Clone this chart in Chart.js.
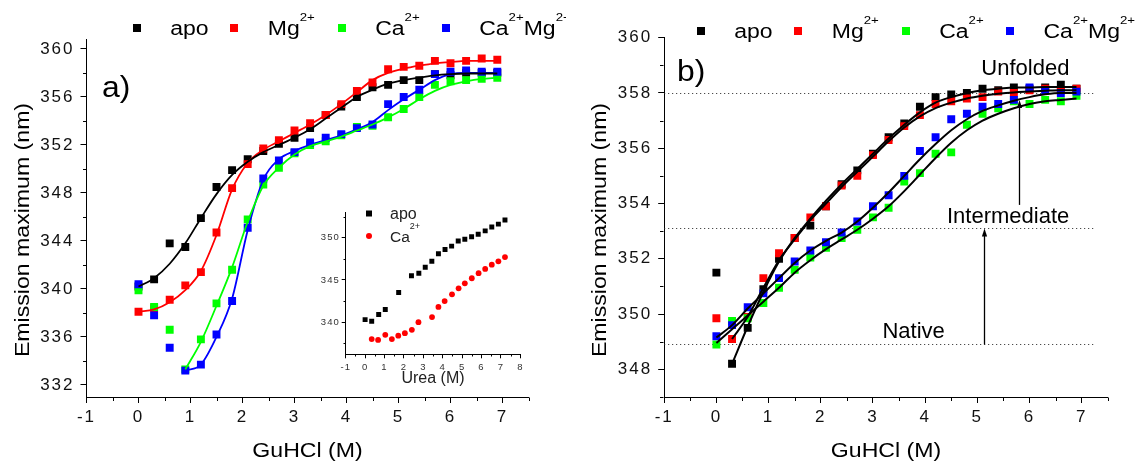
<!DOCTYPE html>
<html>
<head>
<meta charset="utf-8">
<script src="https://cdn.jsdelivr.net/npm/chart.js@4.4.1/dist/chart.umd.min.js"></script>
<style>
  html, body { margin:0; padding:0; background:#fff; }
  #wrap { position:relative; width:1136px; height:462px; overflow:hidden; background:#fff; }
  #wrap canvas { position:absolute; }
</style>
</head>
<body>
<div id="wrap">
  <canvas id="ca" width="566" height="462" style="left:0;top:0"></canvas>
  <canvas id="cb" width="570" height="462" style="left:566px;top:0"></canvas>
  <canvas id="ci" width="240" height="200" style="left:290px;top:195px"></canvas>
</div>
<script>
// ---------------- DATA ----------------
const guhcl = [0,0.3,0.6,0.9,1.2,1.5,1.8,2.1,2.4,2.7,3.0,3.3,3.6,3.9,4.2,4.5,4.8,5.1,5.4,5.7,6.0,6.3,6.6,6.9];
const guhclFrom03 = guhcl.slice(1);
const guhclFrom09 = guhcl.slice(3);

// panel a) measured points
const aApo  = [340.2,340.8,343.8,343.5,345.9,348.5,349.9,350.8,351.5,352.1,352.6,353.4,354.5,355.2,356.0,356.8,357.0,357.4,357.4,357.9,357.8,358.0,358.0,358.0];
const aMg   = [338.1,338.4,339.1,340.3,341.4,344.7,348.4,350.4,351.7,352.4,353.2,353.8,354.5,355.4,356.5,357.2,358.3,358.5,358.6,359.0,358.8,359.0,359.2,359.1];
const aCa   = [339.9,338.5,336.6,333.3,335.8,338.8,341.6,345.8,348.7,350.1,351.3,352.0,352.3,352.8,353.5,353.6,354.3,355.0,356.0,357.0,357.3,357.4,357.5,357.6];
const aCaMg = [340.4,337.8,335.1,333.2,333.7,336.2,339.0,345.1,349.2,350.7,351.4,352.2,352.6,352.9,353.4,353.7,355.4,356.0,356.6,357.9,358.1,358.2,358.1,358.1];
// panel a) fitted curves
const aFitApo  = [340.2,340.9,342.1,343.8,345.9,347.9,349.5,350.6,351.4,352.0,352.6,353.3,354.2,355.1,356.0,356.6,357.1,357.4,357.6,357.8,357.9,357.95,357.95,357.95];
const aFitMg   = [338.1,338.3,338.9,339.9,341.5,344.5,348.3,350.5,351.6,352.3,353.0,353.7,354.5,355.4,356.4,357.4,358.0,358.35,358.6,358.8,358.9,359.0,359.0,359.0];
const aFitCa   = [333.3,335.6,338.6,341.8,345.6,348.6,350.1,351.2,351.9,352.3,352.7,353.2,353.7,354.3,355.0,355.8,356.5,357.0,357.3,357.5,357.6];
const aFitCaMg = [333.2,333.7,336.0,339.2,344.9,349.1,350.8,351.5,352.0,352.4,352.8,353.3,353.9,354.9,355.8,356.6,357.4,357.9,358.0,358.0,358.0];

// panel b) measured points
const bApo  = [351.5,348.2,349.5,350.9,352.0,352.75,353.2,353.9,354.7,355.2,355.8,356.4,356.9,357.5,357.85,357.95,358.0,358.15,358.1,358.2,358.15,358.2,358.3,358.15];
const bMg   = [349.85,349.1,349.9,351.3,352.2,352.75,353.5,353.9,354.65,355.0,355.75,356.3,356.8,357.2,357.6,357.7,357.8,357.85,358.05,358.0,358.1,358.15,358.1,358.15];
const bCa   = [348.9,349.75,349.85,350.4,350.95,351.6,352.05,352.4,352.75,353.05,353.5,353.85,354.8,355.1,355.8,355.85,356.85,357.25,357.45,357.7,357.6,357.75,357.7,357.9];
const bCaMg = [349.2,349.6,350.25,350.75,351.3,351.9,352.3,352.6,352.95,353.35,353.9,354.3,355.0,355.9,356.4,357.05,357.25,357.5,357.6,357.75,358.2,358.1,358.0,358.05];
// panel b) fitted curves
const bFitApo  = [348.2,349.55,350.8,351.9,352.75,353.45,354.1,354.7,355.25,355.8,356.35,356.85,357.3,357.65,357.85,358.0,358.1,358.15,358.2,358.2,358.22,358.22,358.22];
const bFitMg   = [349.1,349.9,350.95,351.95,352.7,353.4,354.0,354.6,355.15,355.7,356.25,356.75,357.15,357.45,357.65,357.8,357.9,357.97,358.02,358.05,358.08,358.1,358.1];
const bFitCa   = [348.95,349.45,349.95,350.45,350.95,351.5,351.95,352.35,352.7,353.05,353.45,353.9,354.45,355.05,355.65,356.2,356.65,357.0,357.25,357.45,357.6,357.7,357.75,357.8];
const bFitCaMg = [349.15,349.6,350.2,350.75,351.3,351.85,352.3,352.65,352.95,353.35,353.85,354.4,355.0,355.6,356.15,356.65,357.05,357.35,357.55,357.72,357.85,357.95,358.0,358.0];

// inset (urea)
const ureaApo = [0,0.34,0.7,1.04,1.73,2.39,2.77,3.1,3.44,3.78,4.12,4.46,4.8,5.14,5.49,5.83,6.19,6.53,6.87,7.21];
const insetApo = [340.3,340.1,340.9,341.5,343.5,345.5,345.8,346.5,347.2,348.1,348.6,349.0,349.6,349.8,350.1,350.4,350.8,351.25,351.6,352.1];
const ureaCa = [0.34,0.67,1.04,1.38,1.71,2.05,2.41,2.75,3.45,3.78,4.1,4.48,4.82,5.14,5.5,5.85,6.19,6.53,6.87,7.21];
const insetCa = [338.0,337.9,338.5,338.0,338.4,338.7,339.1,340.0,340.6,341.8,342.5,343.3,344.0,344.6,345.2,345.8,346.3,346.8,347.2,347.7];

// labels & ticks
const seriesNames = ['apo','Mg^{2+}','Ca^{2+}','Ca^{2+}Mg^{2+}'];
const insetNames = ['apo','Ca^{2+}'];
const seriesColors = ['#000000','#ff0000','#00ff00','#0000ff'];
const xTicks = [-1,0,1,2,3,4,5,6,7];
const aYTicks = [332,336,340,344,348,352,356,360];
const bYTicks = [348,350,352,354,356,358,360];
const insetXTicks = [-1,0,1,2,3,4,5,6,7,8];
const insetYTicks = [340,345,350];
const levelNames = ['Unfolded','Intermediate','Native'];
const levelValues = [358.0, 353.1, 348.9];
const yTitle = 'Emission maximum (nm)';
const xTitle = 'GuHCl (M)';
const insetXTitle = 'Urea (M)';

// ---------------- HELPERS ----------------
const FONT = '"Liberation Sans", Arial, Helvetica, sans-serif';
Chart.defaults.font.family = FONT;
const xy = (xs, ys) => ys.map((y, i) => ({x: xs[i], y}));

function markerSet(xs, ys, color, order, r, style) {
  return {data: xy(xs, ys), showLine: false, pointStyle: style || 'rect', pointRadius: r, pointHoverRadius: r,
          backgroundColor: color, borderColor: color, borderWidth: 0, order};
}
function fitSet(xs, ys, color, width) {
  return {data: xy(xs, ys), showLine: true, pointRadius: 0, pointHoverRadius: 0, borderColor: color,
          backgroundColor: color, borderWidth: width, fill: false, cubicInterpolationMode: 'monotone', order: 0};
}
function axis(pos, min, max, ticks, fitSize, fontSize, color, tickLen, pad) {
  const isY = pos === 'left';
  return {
    type: 'linear', position: pos, min, max,
    afterBuildTicks: s => { s.ticks = ticks.map(v => ({value: v})); },
    afterFit: s => { if (isY) s.width = fitSize; else s.height = fitSize; },
    grid: {display: true, drawOnChartArea: false, drawTicks: true, tickLength: tickLen, color: '#000', lineWidth: 1},
    border: {display: true, color: '#000', width: 1},
    ticks: {font: {family: FONT, size: fontSize}, color, padding: pad, maxRotation: 0, minRotation: 0, autoSkip: false, includeBounds: false}
  };
}
function text(ctx, s, x, y, size, opt) {
  opt = opt || {};
  ctx.save();
  ctx.font = size + 'px ' + FONT;
  ctx.letterSpacing = (opt.ls || 0) + 'px';
  ctx.fillStyle = opt.color || '#000';
  ctx.textBaseline = 'alphabetic';
  ctx.textAlign = opt.align || 'left';
  ctx.translate(x, y);
  if (opt.rot) ctx.rotate(opt.rot);
  ctx.scale(opt.sx || 1, 1);
  ctx.fillText(s, 0, 0);
  ctx.restore();
}
function rich(ctx, s, x, y, size, supSize, raise, sx, color) {
  const parts = s.split(/(\^\{[^}]*\})/).filter(Boolean);
  let cx = x;
  parts.forEach(p => {
    const sup = p.startsWith('^{');
    const t = sup ? p.slice(2, -1) : p;
    const fs = sup ? supSize : size;
    ctx.save();
    ctx.font = fs + 'px ' + FONT;
    ctx.letterSpacing = '0px';
    ctx.fillStyle = color;
    ctx.textBaseline = 'alphabetic';
    ctx.textAlign = 'left';
    ctx.translate(cx, sup ? y - raise : y);
    ctx.scale(sx, 1);
    ctx.fillText(t, 0, 0);
    const w = ctx.measureText(t).width;
    ctx.restore();
    cx += w * sx;
  });
}
const spacingPlugin = {id: 'spacing', beforeDraw(chart, args, o) { chart.ctx.letterSpacing = (o.px || 0) + 'px'; }};
const minorPlugin = {
  id: 'minor',
  afterDraw(chart, args, o) {
    const ctx = chart.ctx, xs = chart.scales.x, ys = chart.scales.y;
    ctx.save();
    ctx.strokeStyle = '#000'; ctx.lineWidth = 1; ctx.beginPath();
    const each = (scale, base, step, cb) => {
      const k0 = Math.ceil((scale.min - base) / step - 1e-9), k1 = Math.floor((scale.max - base) / step + 1e-9);
      for (let k = k0; k <= k1; k++) { if (Math.abs(k % 2) === 0) continue; cb(scale.getPixelForValue(base + k * step)); }
    };
    const bottom = Math.round(chart.chartArea.bottom) + 0.5, left = Math.round(chart.chartArea.left) - 0.5;
    each(xs, o.xBase, o.xStep, px => { const x = Math.round(px) + 0.5; ctx.moveTo(x, bottom); ctx.lineTo(x, bottom + o.len); });
    each(ys, o.yBase, o.yStep, py => { const y = Math.round(py) + 0.5; ctx.moveTo(left, y); ctx.lineTo(left - o.len, y); });
    ctx.stroke();
    ctx.restore();
  }
};
function drawLegend(ctx, markerXs, cy) {
  seriesNames.forEach((name, i) => {
    ctx.fillStyle = seriesColors[i];
    ctx.fillRect(Math.round(markerXs[i] - 4), Math.round(cy - 4), 8, 8);
    rich(ctx, name, markerXs[i] + 33.5, cy + 7.7, 20, 11.5, 14, 1.15, '#000');
  });
}
function drawAxisTitles(chart, yTitleX, yTitleY) {
  const ctx = chart.ctx, ca = chart.chartArea;
  text(ctx, yTitle, yTitleX, yTitleY, 21, {align: 'center', rot: -Math.PI / 2, sx: 1.1});
  text(ctx, xTitle, (ca.left + ca.right) / 2, 457, 21, {align: 'center', sx: 1.1});
}
function arrowUp(ctx, x, yFrom, yTo) {
  ctx.save();
  ctx.strokeStyle = '#000'; ctx.fillStyle = '#000'; ctx.lineWidth = 1.3;
  ctx.beginPath(); ctx.moveTo(x, yFrom); ctx.lineTo(x, yTo + 5); ctx.stroke();
  ctx.beginPath(); ctx.moveTo(x, yTo); ctx.lineTo(x - 2.6, yTo + 8); ctx.lineTo(x + 2.6, yTo + 8); ctx.closePath(); ctx.fill();
  ctx.restore();
}

// ---------------- PANEL A ----------------
new Chart(document.getElementById('ca'), {
  type: 'scatter',
  data: {datasets: [
    fitSet(guhcl, aFitApo, seriesColors[0], 1.8),
    fitSet(guhcl, aFitMg, seriesColors[1], 1.8),
    fitSet(guhclFrom09, aFitCa, seriesColors[2], 1.8),
    fitSet(guhclFrom09, aFitCaMg, seriesColors[3], 1.8),
    markerSet(guhcl, aApo, seriesColors[0], 4, 5.6),
    markerSet(guhcl, aMg, seriesColors[1], 3, 5.6),
    markerSet(guhcl, aCa, seriesColors[2], 2, 5.6),
    markerSet(guhcl, aCaMg, seriesColors[3], 1, 5.6)
  ]},
  options: {
    responsive: false, animation: false, events: [],
    layout: {padding: {left: 0, top: 39.3, right: 37.5, bottom: 0}},
    scales: {
      x: axis('bottom', -1, 7.5, xTicks, 65, 17, '#111', 6, 4),
      y: axis('left', 331, 360.8, aYTicks, 86.5, 17, '#111', 6, 6)
    },
    plugins: {legend: {display: false}, tooltip: {enabled: false},
      spacing: {px: 2}, minor: {xBase: 0, xStep: 0.5, yBase: 332, yStep: 2, len: 3.5}}
  },
  plugins: [spacingPlugin, minorPlugin, {
    id: 'decoA',
    afterDraw(chart) {
      const ctx = chart.ctx;
      drawLegend(ctx, [136.7, 234.3, 341.7, 445.7], 27.5);
      drawAxisTitles(chart, 28.5, 230);
      text(ctx, 'a)', 102, 97, 29, {sx: 1.1});
    }
  }]
});

// ---------------- PANEL B ----------------
new Chart(document.getElementById('cb'), {
  type: 'scatter',
  data: {datasets: [
    fitSet(guhclFrom03, bFitApo, '#000', 2),
    fitSet(guhclFrom03, bFitMg, '#000', 2),
    fitSet(guhcl, bFitCa, '#000', 2),
    fitSet(guhcl, bFitCaMg, '#000', 2),
    markerSet(guhcl, bApo, seriesColors[0], 4, 5.6),
    markerSet(guhcl, bMg, seriesColors[1], 3, 5.6),
    markerSet(guhcl, bCa, seriesColors[2], 2, 5.6),
    markerSet(guhcl, bCaMg, seriesColors[3], 1, 5.6)
  ]},
  options: {
    responsive: false, animation: false, events: [],
    layout: {padding: {left: 0, top: 37.7, right: 28.2, bottom: 0}},
    scales: {
      x: axis('bottom', -1, 7.5, xTicks, 65, 17, '#111', 6, 4),
      y: axis('left', 347, 360, bYTicks, 98.2, 17, '#111', 6, 6)
    },
    plugins: {legend: {display: false}, tooltip: {enabled: false},
      spacing: {px: 2}, minor: {xBase: 0, xStep: 0.5, yBase: 348, yStep: 1, len: 3.5}}
  },
  plugins: [spacingPlugin, minorPlugin, {
    id: 'levels',
    beforeDatasetsDraw(chart) {
      const ctx = chart.ctx, xs = chart.scales.x, ys = chart.scales.y;
      ctx.save();
      ctx.strokeStyle = '#222'; ctx.lineWidth = 1; ctx.setLineDash([1, 3]);
      levelValues.forEach(v => {
        const y = Math.round(ys.getPixelForValue(v)) + 0.5;
        ctx.beginPath(); ctx.moveTo(xs.getPixelForValue(-1), y); ctx.lineTo(xs.getPixelForValue(7.26), y); ctx.stroke();
      });
      ctx.restore();
    },
    afterDraw(chart) {
      const ctx = chart.ctx, xs = chart.scales.x, ys = chart.scales.y;
      drawLegend(ctx, [134.7, 232.3, 339.7, 444], 30.5);
      drawAxisTitles(chart, 40, 230);
      text(ctx, 'b)', 111, 81, 29, {sx: 1.1});
      // annotations
      text(ctx, levelNames[0], xs.getPixelForValue(5.92), ys.getPixelForValue(358.64), 22, {align: 'center'});
      text(ctx, levelNames[1], xs.getPixelForValue(5.59), ys.getPixelForValue(353.3), 22, {align: 'center'});
      text(ctx, levelNames[2], xs.getPixelForValue(3.78), ys.getPixelForValue(349.13), 22, {align: 'center'});
      arrowUp(ctx, Math.round(xs.getPixelForValue(5.12)) + 0.5, ys.getPixelForValue(levelValues[2]), ys.getPixelForValue(levelValues[1]));
      arrowUp(ctx, Math.round(xs.getPixelForValue(5.8)) + 0.5, ys.getPixelForValue(353.95), ys.getPixelForValue(357.75));
    }
  }]
});

// ---------------- INSET ----------------
new Chart(document.getElementById('ci'), {
  type: 'scatter',
  data: {datasets: [
    markerSet(ureaApo, insetApo, seriesColors[0], 2, 3.5, 'rect'),
    markerSet(ureaCa, insetCa, seriesColors[1], 1, 2.9, 'circle')
  ]},
  options: {
    responsive: false, animation: false, events: [],
    layout: {padding: {left: 0, top: 17.3, right: 9.7, bottom: 0}},
    scales: {
      x: axis('bottom', -1, 8, insetXTicks, 40.7, 9.5, '#333', 4, 3),
      y: axis('left', 336.2, 353, insetYTicks, 55.7, 9.5, '#333', 4, 2)
    },
    plugins: {legend: {display: false}, tooltip: {enabled: false},
      spacing: {px: 1}, minor: {xBase: 0, xStep: 0.5, yBase: 340, yStep: 2.5, len: 2}}
  },
  plugins: [spacingPlugin, minorPlugin, {
    id: 'decoI',
    afterDraw(chart) {
      const ctx = chart.ctx, ca = chart.chartArea;
      ctx.save();
      ctx.fillStyle = seriesColors[0];
      ctx.fillRect(76, 15.5, 6, 6);
      ctx.fillStyle = seriesColors[1];
      ctx.beginPath(); ctx.arc(79, 41, 3, 0, Math.PI * 2); ctx.fill();
      ctx.restore();
      rich(ctx, insetNames[0], 100, 24, 16, 9, 13, 1, '#222');
      rich(ctx, insetNames[1], 100, 46.7, 15.5, 9, 13, 1, '#222');
      text(ctx, insetXTitle, (ca.left + ca.right) / 2, 188, 16, {align: 'center', color: '#222'});
    }
  }]
});
</script>
</body>
</html>
